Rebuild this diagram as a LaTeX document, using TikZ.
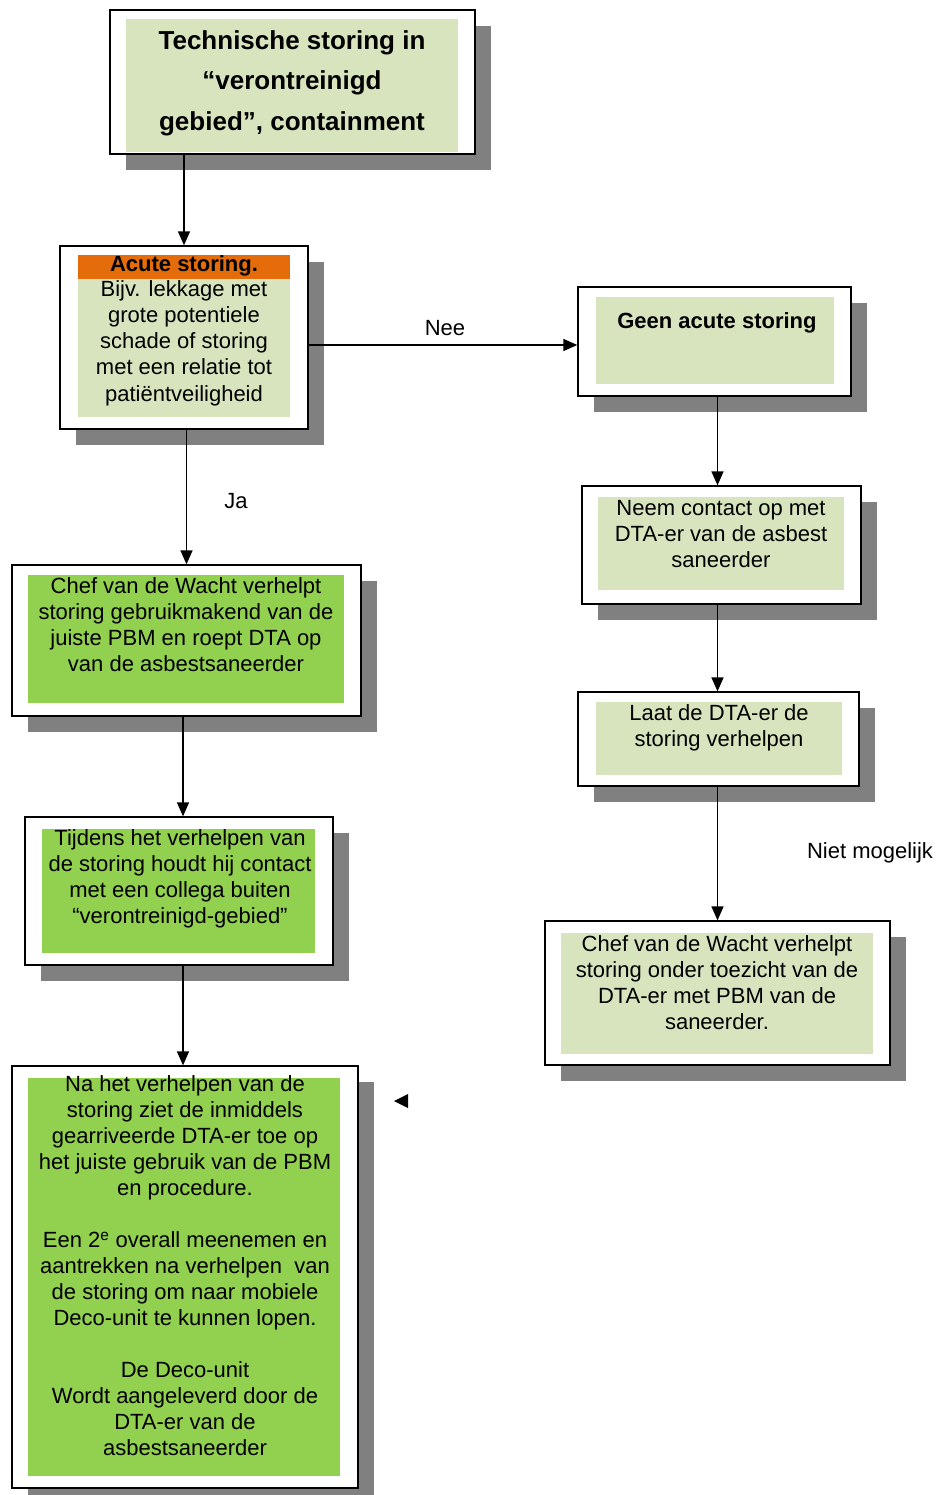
\documentclass[tikz,border=0pt]{standalone}
\usepackage{fontspec}
\setmainfont{Liberation Sans}
\usetikzlibrary{arrows.meta,shadows}

\definecolor{palegreen}{HTML}{D7E4BD}
\definecolor{leafgreen}{HTML}{92D050}
\definecolor{alertorange}{HTML}{E46C0A}
\definecolor{shadowgray}{HTML}{808080}

\tikzset{
  frame/.style={draw=black, line width=1.3pt, fill=white, inner sep=0pt,
    drop shadow={shadow xshift=16pt, shadow yshift=-16pt, fill=shadowgray, opacity=1}},
  boxtext/.style={align=center, inner sep=0pt, font=\fontsize{22}{26}\selectfont},
  titletext/.style={align=center, inner sep=0pt, font=\fontsize{26}{40.5}\selectfont\bfseries},
  flow/.style={-{Triangle[width=12pt,length=14pt]}, line width=1.4pt},
  flowlabel/.style={inner sep=0pt, font=\fontsize{22}{26}\selectfont}
}

\begin{document}
\begin{tikzpicture}[x=1pt,y=-1pt]
	\useasboundingbox (0,0) rectangle (935,1495);
	% frames
	\node[frame, minimum width=365pt, minimum height=144pt] (top) at (292.5,82) {};
	\node[frame, minimum width=248pt, minimum height=183pt] (acute) at (184,337.5) {};
	\node[frame, minimum width=273pt, minimum height=109pt] (geen) at (714.5,341.5) {};
	\node[frame, minimum width=279pt, minimum height=118pt] (neem) at (721.5,545) {};
	\node[frame, minimum width=281pt, minimum height=94pt] (laat) at (718.5,739) {};
	\node[frame, minimum width=345pt, minimum height=144pt] (chefR) at (717.5,993) {};
	\node[frame, minimum width=349pt, minimum height=151pt] (chefL) at (186.5,640.5) {};
	\node[frame, minimum width=308pt, minimum height=148pt] (tijdens) at (179,891) {};
	\node[frame, minimum width=346pt, minimum height=422pt] (na) at (185,1277) {};
	% inner fills
	\fill[palegreen] (126,19) rectangle (458,152);
	\fill[palegreen] (78,255) rectangle (290,417);
	\fill[alertorange] (78,255) rectangle (290,279);
	\fill[palegreen] (596,297) rectangle (834,384);
	\fill[palegreen] (598,497) rectangle (844,590);
	\fill[palegreen] (596,702) rectangle (842,775);
	\fill[palegreen] (561,933) rectangle (873,1054);
	\fill[leafgreen] (28,575) rectangle (344,703);
	\fill[leafgreen] (42,829) rectangle (315,953);
	\fill[leafgreen] (28,1078) rectangle (340,1476);
	% texts
	\node[titletext] (toptxt) at (292,83) {Technische storing in\\“verontreinigd\\gebied”, containment};
	\node[boxtext, font=\fontsize{22}{26}\selectfont\bfseries] (acutehead) at (184,266) {Acute storing.};
	\node[boxtext, font=\fontsize{22}{26.3}\selectfont] (acutetxt) at (184,343) {Bijv. lekkage met\\grote potentiele\\schade of storing\\met een relatie tot\\patiëntveiligheid};
	\node[boxtext, font=\fontsize{22}{26}\selectfont\bfseries] (geentxt) at (717,323) {Geen acute storing};
	\node[boxtext] (neemtxt) at (721,534) {Neem contact op met\\DTA-er van de asbest\\saneerder};
	\node[boxtext] (laattxt) at (719,728) {Laat de DTA-er de\\storing verhelpen};
	\node[boxtext] (chefRtxt) at (717,983) {Chef van de Wacht verhelpt\\storing onder toezicht van de\\DTA-er met PBM van de\\saneerder.};
	\node[boxtext] (chefLtxt) at (186,625) {Chef van de Wacht verhelpt\\storing gebruikmakend van de\\juiste PBM en roept DTA op\\van de asbestsaneerder};
	\node[boxtext] (tijdenstxt) at (180,879) {Tijdens het verhelpen van\\de storing houdt hij contact\\met een collega buiten\\“verontreinigd-gebied”};
	\node[boxtext] (natxt) at (185,1266) {Na het verhelpen van de\\storing ziet de inmiddels\\gearriveerde DTA-er toe op\\het juiste gebruik van de PBM\\en procedure.\\[26pt]Een 2\textsuperscript{e} overall meenemen en\\aantrekken na verhelpen\ \ van\\de storing om naar mobiele\\Deco-unit te kunnen lopen.\\[26pt]De Deco-unit\\Wordt aangeleverd door de\\DTA-er van de\\asbestsaneerder};
	% connectors
	\coordinate (leftx) at (183,0);
	\coordinate (rightx) at (717.5,0);
	\coordinate (neey) at (0,345);
	\draw[flow] (acute.north |- top.south) -- (acute.north);
	\draw[flow] (acute.east |- neey) -- (geen.west |- neey);
	\draw[flow] (chefL.north |- acute.south) -- (chefL.north);
	\draw[flow] (rightx |- geen.south) -- (rightx |- neem.north);
	\draw[flow] (rightx |- neem.south) -- (rightx |- laat.north);
	\draw[flow] (rightx |- laat.south) -- (rightx |- chefR.north);
	\draw[flow] (leftx |- chefL.south) -- (leftx |- tijdens.north);
	\draw[flow] (leftx |- tijdens.south) -- (leftx |- na.north);
	\node[flowlabel] (nee) at (445,328) {Nee};
	\node[flowlabel] (ja) at (236,501) {Ja};
	\node[flowlabel] (niet) at (870,853) {Niet mogelijk};
	% loose arrow tip
	\fill (394,1101) -- (408,1094) -- (408,1108) -- cycle;
\end{tikzpicture}
\end{document}
